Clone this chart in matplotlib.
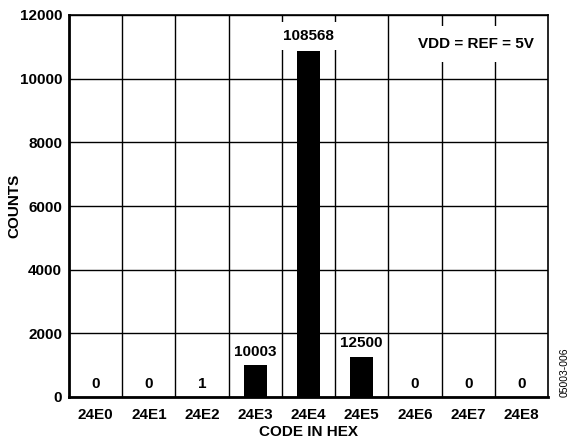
import numpy as np
import matplotlib
matplotlib.use('Agg')
import matplotlib.pyplot as plt

plt.rcParams['font.family'] = ['Liberation Sans', 'DejaVu Sans']
plt.rcParams['font.weight'] = 'bold'

codes = ['24E0', '24E1', '24E2', '24E3', '24E4', '24E5', '24E6', '24E7', '24E8']
hits = [0, 0, 1, 10003, 108568, 12500, 0, 0, 0]
bar_h = [0, 0, 0, 1000, 10880, 1270, 0, 0, 0]

fig = plt.figure(figsize=(5.69, 4.45), dpi=100)
ax = fig.add_axes([69/569, 48/445, 479/569, 382/445])

x = np.arange(len(codes))
ax.bar(x, bar_h, width=0.43, color='black', zorder=3)

top = int(np.argmax(bar_h))
for i in range(len(codes)):
    pad = 0.45 if i == top else 0.05
    ax.annotate(str(hits[i]), (x[i], bar_h[i]), xytext=(0, 10.5 if i == top else 9.5),
                textcoords='offset points', ha='center', va='center', fontsize=11,
                fontweight='bold', zorder=4,
                bbox=dict(boxstyle='square,pad=%g' % pad, fc='white', ec='none'))

ax.set_xlim(-0.5, len(codes) - 0.5)
ax.set_ylim(0, 12000)
ax.set_xticks(x)
ax.set_xticklabels(codes)
ax.set_yticks(np.arange(0, 12001, 2000))
ax.set_xticks(x[:-1] + 0.5, minor=True)
ax.tick_params(axis='both', which='both', length=0, labelsize=11)
ax.tick_params(axis='y', pad=5)
ax.tick_params(axis='x', pad=8)
ax.grid(True, axis='y', which='major', color='black', lw=1.0, zorder=1)
ax.grid(True, axis='x', which='minor', color='black', lw=1.0, zorder=1)
for lab in ax.get_xticklabels() + ax.get_yticklabels():
    lab.set_fontweight('bold')
for s in ax.spines.values():
    s.set_linewidth(1.2)
    s.set_zorder(5)
ax.spines['left'].set_linewidth(2.0)
ax.spines['bottom'].set_linewidth(2.0)

ax.text(0.97, 0.924, 'VDD = REF = 5V', transform=ax.transAxes, ha='right', va='center',
        fontsize=11, fontweight='bold', zorder=4,
        bbox=dict(boxstyle='square,pad=0.7', fc='white', ec='none'))

ax.set_xlabel('CODE IN HEX', fontsize=11, fontweight='bold')
ax.xaxis.set_label_coords(0.5, -(432 - 397) / 382)
ax.set_ylabel('COUNTS', fontsize=11, fontweight='bold')
ax.yaxis.set_label_coords(-(69 - 14) / 479, 0.5)
ax.xaxis.label.set_va('center')
ax.yaxis.label.set_va('center')

fig.text(565/569, 1 - 372/445, '05003-006', rotation=90, ha='center', va='center',
         fontsize=7.5, fontweight='normal')

fig.savefig('out.png', dpi=100)
